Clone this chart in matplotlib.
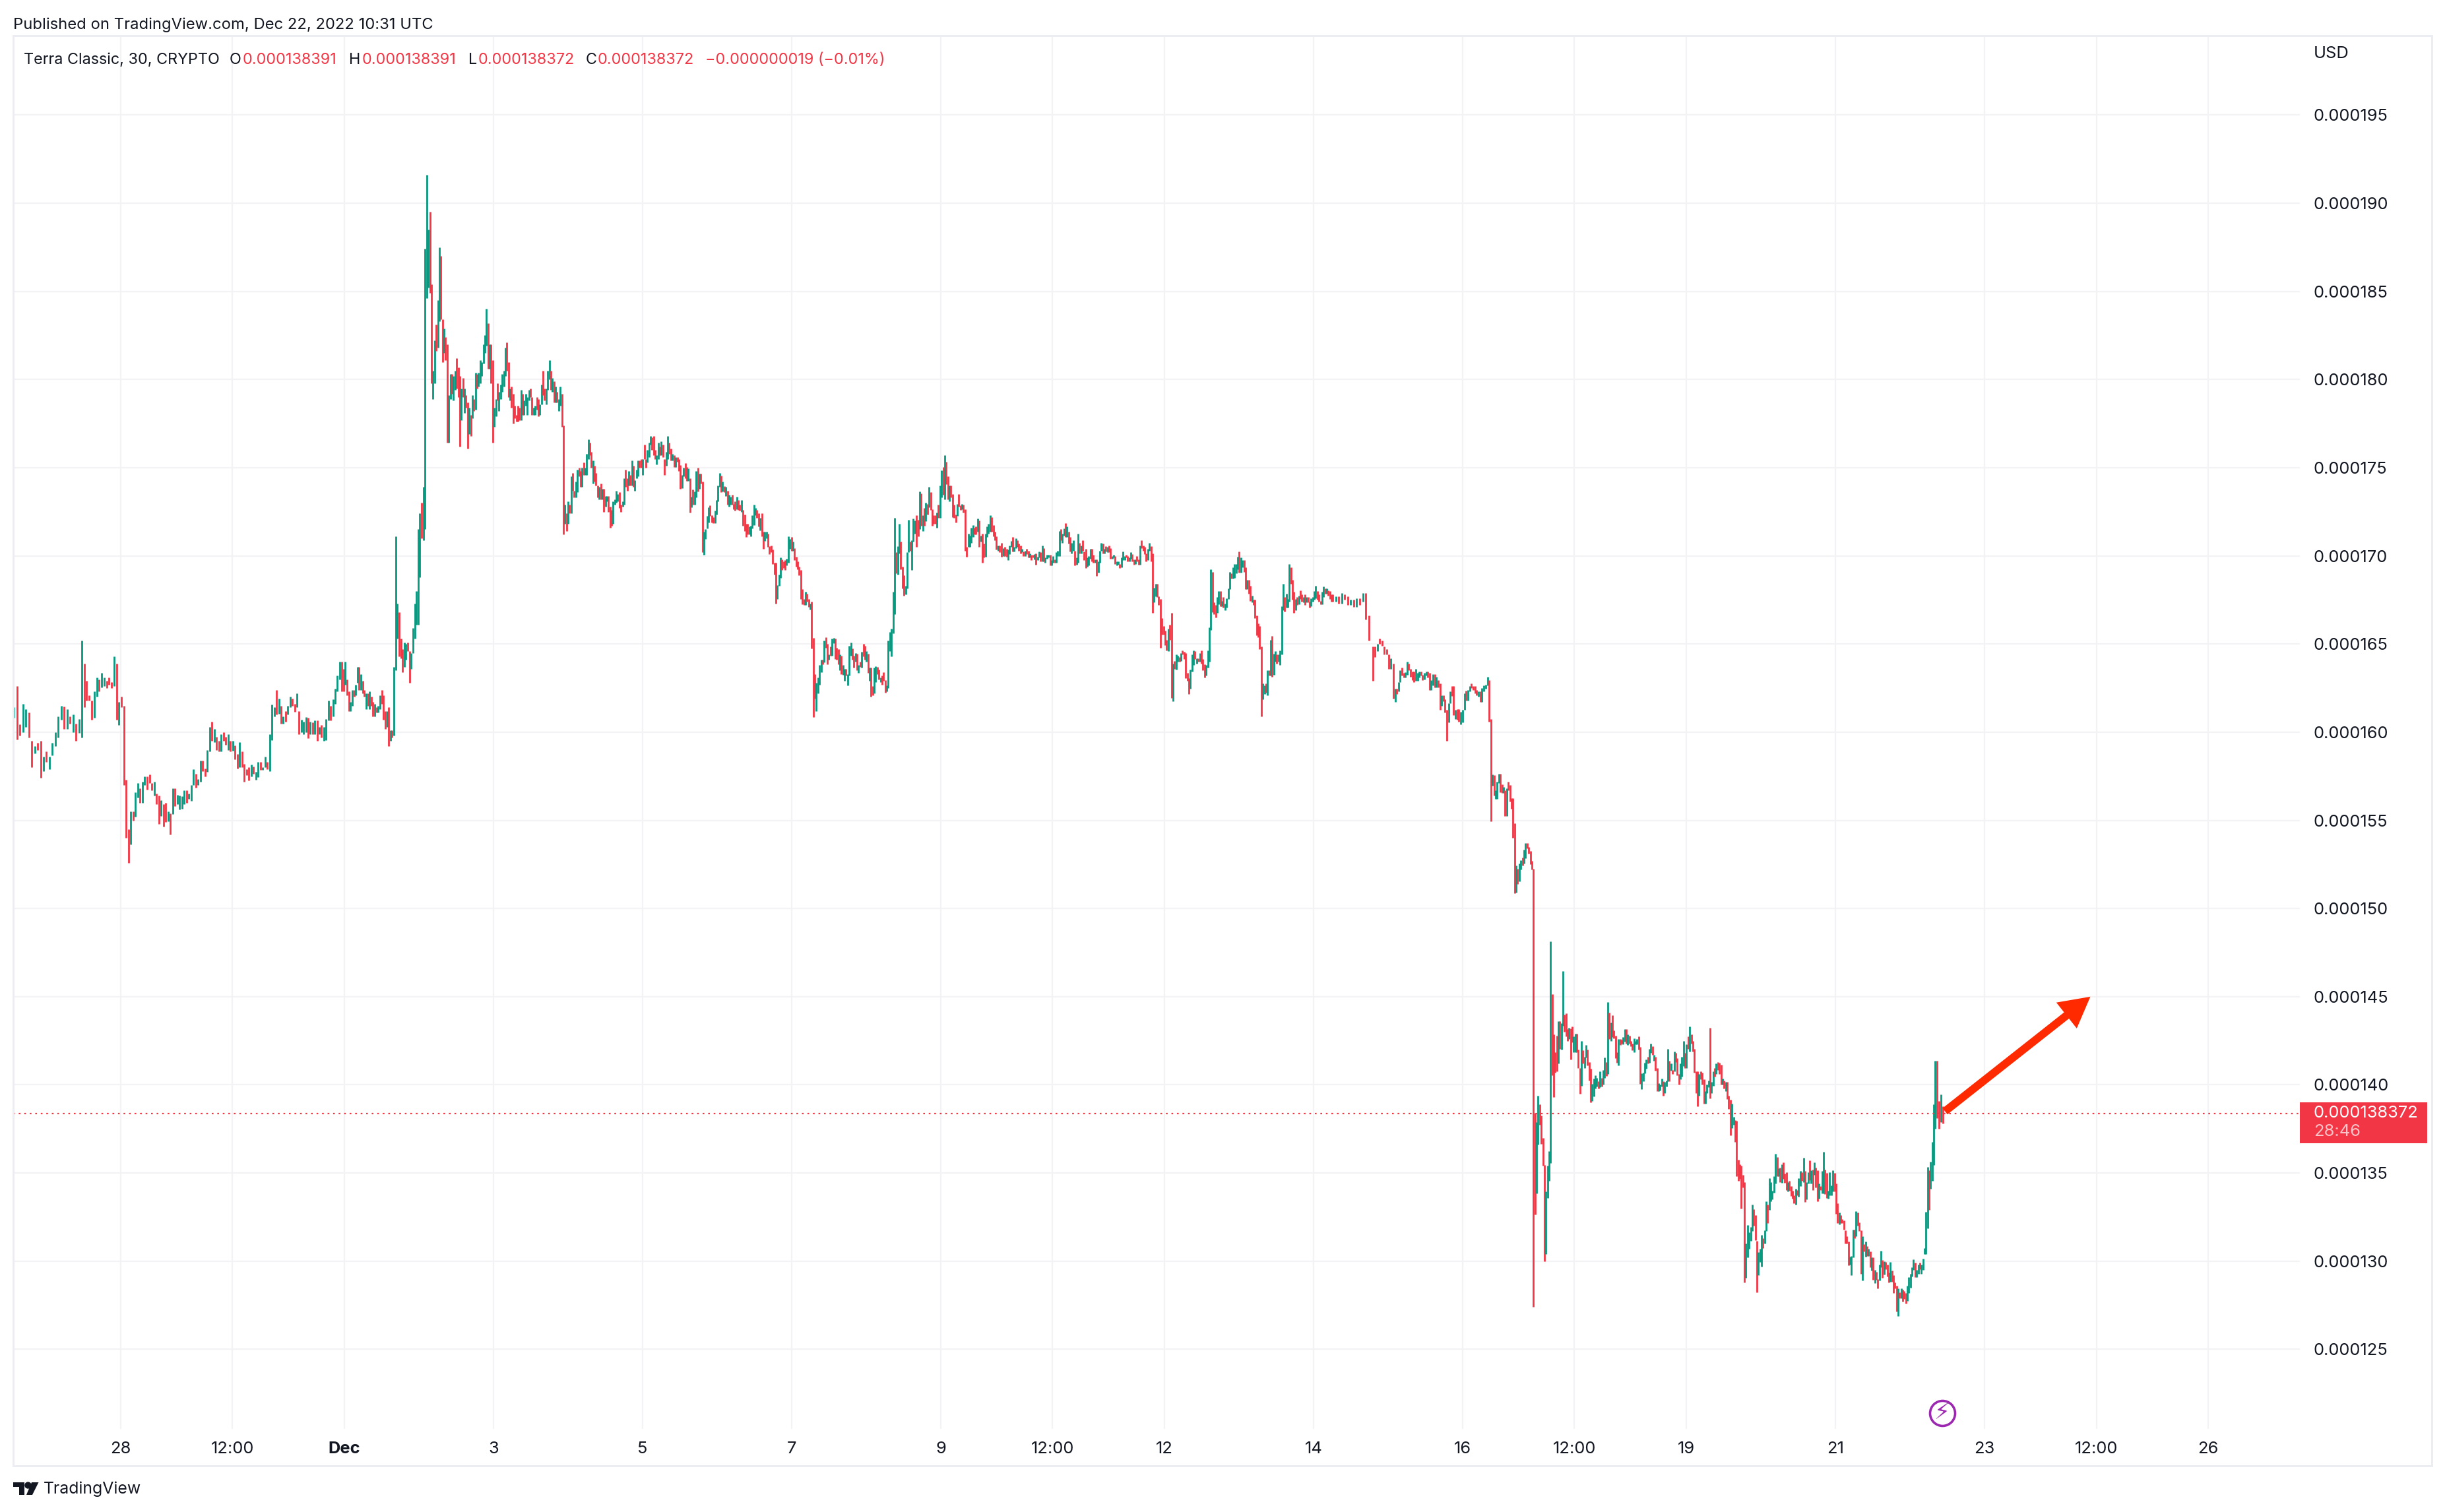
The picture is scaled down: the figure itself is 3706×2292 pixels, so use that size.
import numpy as np
import matplotlib
matplotlib.use("Agg")
import matplotlib.pyplot as plt
from matplotlib.patches import Rectangle, Polygon, FancyArrowPatch, ArrowStyle
from matplotlib.ticker import FuncFormatter

plt.rcParams['font.family'] = ['Inter', 'DejaVu Sans']

# Every bar is (start, end) in millionths of USD: end > start is an up bar, end < start a down bar.
nov27_dec1 = [(160.8,161.4),(162.6,159.6),(160.45,159.8),(160,161.6),(160.3,161.3),(161.1,159.7),(159.5,158),(158.8,159.2),(159.4,159),(159.5,157.4),(157.8,158.6),(158.9,158.3),(157.9,158.6),(158.7,159.4),(159.2,160),(159.7,160.9),(160.7,161.5),(161.45,160.2),(160.2,161.3),(160.9,160.5),(160,161),(160.5,159.5),(159.95,160.75),(159.7,165.2),(163.9,161.4),(162.9,161.8),(162.1,161.8),(161.8,160.7),(160.8,162.3),(162,163.1),(163,162.3),(162.55,163.35),(162.6,163.1),(162.9,162.5),(163.1,162.7),(162.85,162.5),(162.6,164.3),(163.9,160.7),(160.4,161.7),(162,161.4),(161.5,157),(157.3,154),(154.5,152.6),(153.65,155.5),(155.5,155),(155.2,156.6),(156.3,157.1),(156.8,156),(156,157.2),(157,157.5),(157.5,156.75),(157.6,157.1),(157.1,156.7),(156.4,157.2),(156.5,155.9),(156.4,154.8),(155.25,156.15),(155.9,154.65),(156,154.9),(154.95,155.5),(155.4,154.2),(155.35,156.8),(156.8,155.8),(155.9,156.45),(155.6,156.4),(155.65,156.35),(155.9,156.7),(156.7,156),(156.2,156.5),(156.1,157),(157,157.9),(157.65,156.85),(157,157.35),(157.2,158.4),(158.4,157.8),(157.95,157.5),(157.75,159),(158.9,160.3),(160.6,159.5),(159.45,160.2),(159.75,159),(159.5,158.9),(158.9,159.9),(160,159.5),(159.75,159.3),(159,159.9),(159.5,158.9),(158.95,159.5),(159.25,158.45),(158.75,157.95),(158,159.45),(158.9,158),(158.2,157.2),(157.9,157.55),(158,157.25),(157.5,158.15),(158.05,157.65),(157.3,157.75),(157.45,158.3),(158.3,157.85),(157.85,158),(158,158.6),(158.3,157.9),(157.8,159.9),(159.55,161.55),(160.9,161.4),(162.4,161),(161.05,161.9),(161.5,160.5),(160.5,160.9),(161.2,160.6),(161,161.5),(161.4,162),(161.9,161.5),(161.6,161.15),(161.4,162.2),(161.2,159.9),(160,160.7),(159.9,160.6),(160,160.85),(160.8,159.65),(159.9,160.6),(160.55,159.9),(159.9,160.65),(160.65,159.5),(159.9,160.3),(160.4,159.7),(159.5,160.3),(159.55,160.75),(160.65,161.8),(161.5,160.65),(160.9,161.85),(161.6,162.45),(162.3,163.2),(163,164),(164,162.3)]

dec1_dec5 = [(163.6,162.3),(162.7,164),(163,162.1),(162.3,161.2),(161.2,161.7),(161.5,162.4),(162.4,162),(162.1,162.7),(162.8,163.7),(163.7,162.4),(162.4,163.3),(162.9,162.2),(162.4,162),(161.3,162.2),(162.2,161.5),(161.3,162.3),(162,161.5),(161.7,160.9),(160.9,161.6),(161.4,161.1),(161.1,161.5),(161.3,162.1),(162.4,161.6),(162.1,160.7),(161.2,160.2),(160.3,161.2),(161.4,159.2),(159.5,160.1),(160.1,159.7),(159.8,163.7),(163.5,171.1),(165.3,167.3),(166.8,164.3),(165.3,164.2),(164.7,163.4),(163.7,165.1),(164.1,165),(165.1,164.6),(164.6,162.8),(163.6,164.5),(164.5,165.9),(165.3,167.3),(166.1,168),(166.1,171.5),(168.8,172.4),(173,171),(170.9,173.9),(171.5,187.4),(184.6,191.6),(185.2,188.5),(189.5,184.9),(185.4,179.8),(178.9,180.5),(179.8,182.2),(183.1,181.6),(181.8,184.5),(183.3,187.5),(187,183.4),(183.4,181),(181.5,182.9),(182.4,181.1),(182,176.4),(176.4,179.1),(178.9,180.3),(180.3,179.2),(178.8,180.2),(179.4,180.5),(181.2,179.5),(180.7,179),(180.2,176.2),(177.7,179.5),(180.1,179),(178.1,179.5),(179.1,178.4),(178.7,176.1),(176.9,178.4),(178,176.8),(177.8,179.1),(178.9,178.2),(178.3,180.4),(180.3,179.5),(179.6,180.4),(179.8,181.1),(180.2,181),(180.9,182),(181.5,182.5),(181.9,184),(183.2,180.6),(180.6,182),(182,179.8),(181.1,176.4),(177.3,178.4),(177.9,178.9),(179.8,178.8),(178.2,179.3),(178.9,179.7),(179.3,180.3),(179.6,180.5),(180.2,181.8),(182.1,180.5),(181,179),(178.8,179.5),(179.6,178.4),(179.2,177.5),(178.5,177.8),(178,177.6),(178.5,177.6),(178.4,177.7),(177.7,179.4),(179.2,178),(178,178.8),(178.5,179.2),(178,179),(178.8,179.4),(179.5,179),(179,178),(178,178.4),(178,178.5),(179,178.3),(178.9,177.9),(178,178.6),(178.6,179.7),(180.5,179.1),(179.5,178.8),(178.6,179.5),(179.4,180.5),(180,181.1),(180.5,179.4),(179.3,180.1),(179.9,178.7),(178.7,179.6),(179.3,178.7),(178.2,178.9),(178.5,179.6),(179.2,177.3),(177.4,171.2),(171.8,172.9),(172.4,171.4),(171.8,173.1),(172.9,172.4),(172.4,174.5),(174.7,173.7),(173.7,173.3),(173.3,174.2),(173.6,174.9),(175,174.5),(174.8,173.9),(173.9,175),(175.3,174.6),(174.6,175),(174.6,175.8),(175.5,176.6),(176.4,175.7),(175.9,175),(174.1,175.4),(175.1,174.2),(174.7,174),(174,173.3),(173.2,173.9),(174.1,173.2),(173.2,173.8),(173.8,172.5),(172.8,173.4),(173.1,173.4),(173.4,172.5),(172.8,171.6),(172.6,171.7),(171.8,173.1),(172.9,173.2),(173,173.7),(173.1,173.5),(173.6,172.7),(172.9,172.5),(172.8,173.1),(172.9,174.4),(174.9,173.9),(174.4,173.7),(174,174.8),(174.6,174),(174,175.4),(175.1,173.9),(173.7,174.3),(174.4,174.9),(174.5,175.4),(175.4,175),(175.5,175),(174.6,175.5),(176.3,175.5),(175.5,175),(175.3,176),(175.6,176.4),(176.3,176.8),(176.7,176),(176.8,175.7),(176,175.5),(175.2,175.7),(175.5,176.4),(176.2,175.7),(175.7,176.5),(176.3,175.6),(175.5,174.6),(175.1,175.9),(175.5,176.8),(176.4,175.8),(176.1,175.4),(175.4,175.8)]

dec5_dec9 = [(175.7,175.05),(175.05,175.6),(175.6,175.35),(175.5,174.8),(175.15,173.8),(173.85,174.6),(174.5,175),(175.25,174.4),(175.05,174.25),(174.25,174.95),(174.4,172.45),(172.75,173.35),(173.75,172.9),(172.9,173.65),(173.3,174.8),(175,173.65),(173.8,174.65),(174.65,174.1),(174.2,170.2),(170.05,171.35),(170.95,171.5),(171.55,172.25),(171.9,172.75),(172.85,172.25),(172.3,171.9),(172.2,171.85),(171.85,172.55),(172.35,173.15),(173.1,174),(173.9,174.7),(174.55,173.6),(173.65,174.2),(173.95,173.6),(173.4,173.9),(173.7,172.9),(172.8,173.45),(172.9,173.35),(173.45,172.9),(172.95,172.65),(173.1,172.55),(172.65,173.35),(173.15,172.6),(172.9,172.55),(172.5,173.15),(172.6,171.7),(172.35,171.4),(171.8,171.05),(171.8,171.2),(171.2,171.65),(171.1,171.7),(171.55,172.3),(171.75,172.9),(172.3,172.7),(172.6,172.15),(172.4,171.65),(171.45,172.15),(172.4,171.1),(171.35,170.4),(170.85,171.35),(171,171.35),(171.25,170.5),(170.55,170.1),(170.6,170.2),(170.35,169.55),(169.6,168.95),(169.6,167.3),(167.55,168.35),(168.3,168.95),(168.75,169.9),(169.8,169.2),(169.7,169.3),(169.75,169.2),(169.45,169.85),(169.6,171.1),(170.4,170.95),(171.05,170.3),(170.3,170.8),(170.45,169.75),(169.95,169.4),(169.7,169.25),(169.4,168.9),(169.2,167.55),(168.1,167.25),(167.55,167.2),(167.2,167.95),(167.85,167.4),(167.55,167.1),(166.95,167.3),(167.4,164.75),(165.35,160.85),(163.3,161.9),(161.2,162.8),(162.2,163.1),(162.7,163.8),(163.4,164.1),(164.1,163.85),(163.95,165.2),(165.4,164.8),(165,163.85),(164.1,164.4),(164.85,164.35),(164.35,165.3),(165.05,165.35),(165.3,164.15),(164.8,164.1),(164.7,163.85),(163.5,164.4),(164.35,163.3),(163.25,163.8),(162.9,163.6),(163.6,163.2),(162.65,163.3),(163.2,164.9),(164.35,165.1),(164.75,164.1),(164.35,163.65),(164,164.5),(164.45,163.5),(163.35,163.8),(164,163.7),(163.65,164.55),(165,164.3),(164.9,164.1),(164,164.6),(164.45,163.35),(162.9,163.65),(163.65,162),(162.6,162.1),(162.2,163.65),(162.85,163.75),(163.7,163.3),(163.55,163),(162.85,163.1),(163.2,162.7),(163.4,162.9),(162.95,162.25),(162.3,162.65),(162.5,165.2),(164.6,165.7),(164.3,165.85),(165.6,167.95),(166.7,172.15),(170.2,169),(168.95,170.55),(170.15,171.8),(170.8,169.25),(169.4,168.15),(168.9,167.75),(167.8,168.3),(168.15,170.2),(170.2,172.05),(170.8,170.3),(169.2,170.9),(170.8,172.1),(171.25,172),(172.3,170.5),(172.05,171.1),(171.5,173.65),(173.55,171.7),(171.4,172.3),(172.7,171.7),(171.95,173),(172.95,172.35),(172.75,173.9),(173.6,172.6),(172.65,171.7),(172.3,171.8),(172.3,171.8),(171.6,172.45),(172.9,172.15),(172.15,174),(173.3,174.85),(175.05,173.45),(173.2,175.7),(175.35,174.05),(174.5,173.2),(173.1,174),(174,173.3),(173.5,172.2),(172.9,172.15),(172.35,171.9),(172.25,172.95),(173.5,172.8),(172.85,172.6),(172.65,172.95),(172.9,172.45),(172.65,170.3),(170.5,169.95),(170.5,171.25),(170.5,171.15),(170.75,171.6),(171.05,171.75),(171.6,171.2),(171.65,171.2),(171.35,172.1),(172,170.5),(170.8,171.15),(171.25,169.6),(170.7,169.9),(169.95,171.25),(171.05,171.65),(171.25,171.8),(171.35,172.3),(172.2,171.35),(171.75,171.1),(171.35,170.9),(171.1,170.35),(170.3,170.6),(170.6,170.2),(170.75,169.95)]

dec9_dec14 = [(170,170.45),(170.5,170),(170.4,169.95),(169.75,170.35),(170.1,170.6),(170.5,170.85),(171.05,170.25),(170.25,170.5),(170.45,171),(170.9,170.5),(170.7,170.3),(170.6,170.15),(170.2,170.4),(170.25,170),(170,170.3),(170.4,170.1),(170.3,169.9),(169.9,170.15),(170.05,169.75),(170.05,169.9),(169.8,170.1),(170.15,169.5),(169.75,169.95),(169.9,170.25),(170.2,169.7),(169.7,170.6),(170.45,169.7),(169.6,169.9),(169.85,170.05),(169.9,170.05),(170.05,169.45),(169.45,169.75),(169.6,170),(169.8,169.6),(169.6,170.2),(170,170.3),(170,171.4),(171.5,170.9),(170.75,171.25),(171.15,171.55),(171.85,171.05),(171.05,171.65),(171.35,170.7),(171.05,170.25),(170.15,170.75),(170.3,170.9),(170.3,169.45),(169.5,169.9),(169.6,171.25),(170.75,170.15),(170.15,170.6),(170.9,170.3),(170.25,169.75),(170.4,169.3),(169.4,169.9),(169.45,170),(169.85,170.4),(170.4,169.7),(170.05,169.6),(169.6,169.8),(169.8,168.85),(169.05,169.7),(169.6,170.3),(170.3,170.75),(170.7,170.15),(170.15,170.4),(170.55,170.25),(170.2,170.5),(170.6,170.2),(170.45,169.85),(169.85,170),(169.9,170.05),(170,169.55),(169.45,169.7),(169.5,169.7),(169.55,169.3),(169.35,169.9),(169.75,170.25),(169.75,170),(170.05,169.9),(170,169.7),(169.7,169.9),(169.85,170.2),(170.1,169.7),(169.8,169.5),(169.55,169.8),(170,169.7),(169.8,169.5),(169.5,170.6),(170.9,170.45),(170.6,170.3),(170.5,170.1),(170.15,169.7),(169.75,170.4),(170.3,170.75),(170.55,169.7),(170.15,166.75),(167.35,168.2),(167.7,168.4),(168.4,167.65),(167.7,167.2),(167.55,164.8),(166.45,165.55),(166,165.55),(165.75,164.95),(165.25,164.65),(164.6,165.85),(166.1,165.25),(166.75,161.95),(161.75,163.9),(164.05,163.6),(163.55,164.4),(164,164.35),(164.25,164),(164.05,164.5),(164.65,164.4),(164.55,164.15),(164.5,163.05),(163.35,162.9),(163.05,162.15),(162.45,163.55),(163.45,164.4),(163.8,164.65),(164.6,164.15),(163.9,164.2),(164.2,164),(164,164.5),(164.65,163.9),(164.15,163.5),(163.85,163.1),(163.2,163.8),(163.65,164.65),(164,165.95),(165.8,169.25),(169.1,166.8),(167.35,166.7),(167.2,166.5),(166.75,167.65),(167.25,168),(168,167.15),(167.15,167.45),(167.65,167.05),(166.9,167.3),(167.05,167.6),(167.55,168.15),(168.1,169.1),(169,168.7),(168.7,169.35),(168.75,169.55),(169,169.55),(169.25,169.95),(170.25,169.05),(169.05,169.9),(169.35,169.75),(169.75,169.1),(169.35,168.1),(168.1,168.65),(168.65,167.85),(168.3,167.45),(167.35,167.75),(167.5,167.2),(167.5,166.45),(166.6,165.5),(166.15,165.4),(166,164.7),(164.85,160.9),(161.85,162.75),(162.15,162.65),(162.75,162.25),(162.1,163.5),(163.5,163.2),(163.2,165.25),(165.45,163.15),(163.25,164.45),(164,164.6),(164.4,163.9),(164,164.4),(163.8,164.65),(164.4,167.15),(166.9,168.4),(167.65,166.85),(167.05,167.85),(167.05,167.55),(167.4,169.55),(169.35,168.4),(168.65,167.5),(167.95,166.75),(166.9,167.55),(167.65,167.2),(167.25,167.75),(168.05,167.55),(167.8,167.4),(167.35,167.65),(167.8,167.2),(167.35,167.65),(167.65,167.35),(167.4,167.05),(167.15,167.6),(167.4,167.65),(167.5,168),(167.6,168.3),(168,167.5),(167.8,167.4),(167.45,167.25),(167.25,167.95),(167.65,168.25),(168.15,167.85),(167.85,168.15),(168.05,167.75),(168,167.55),(167.8,167.4)]

dec14_flat = [(167.8,167.4),(167.4,167.7),(167.7,167.3),(167.3,167.9),(167.8,167.5),(167.7,167.2),(167.2,167.5),(167.5,167.1),(167.1,167.6),(167.6,167.2),(167.4,167.9),(167.9,166.4),(166.6,165.2)]

dec15_dec18 = [(164.85,162.9),(164.85,164.25),(164.6,165),(165.3,165),(165.2,164.9),(164.85,164.4),(164.7,164.4),(164.4,163.6),(163.6,164.2),(163.9,161.9),(161.7,162.45),(162.45,162.15),(162.3,162.85),(162.85,163.5),(163.65,163.2),(163.35,163.1),(163.1,163.4),(163.25,164),(163.9,163.5),(163.6,163.15),(163.45,162.95),(163.45,162.85),(162.9,163.6),(162.9,163.35),(163.1,163.45),(163.45,163.2),(163.25,162.95),(163,163.35),(163.2,163.45),(163.45,163.1),(163.35,162.4),(162.4,162.95),(162.65,163.3),(163.3,162.55),(162.55,163.15),(162.95,162.55),(162.75,161.25),(161.5,162.1),(162.1,161.75),(161.85,161.1),(161.25,159.5),(160.55,161.65),(161.65,162.3),(162.6,162.05),(162.6,160.95),(160.75,161.25),(161.3,160.7),(161.3,160.6),(160.45,161.15),(160.55,161.25),(161.25,162.2),(162.35,161.8),(161.8,162.4),(162.3,162.6),(162.75,162.5),(162.6,162.4),(162.6,162.2),(162.4,162.1),(162,162.3),(162.3,161.7),(161.7,162.5),(162.3,162.65),(162.45,162.7),(162.65,163.15),(162.95,160.6),(160.75,154.95),(156.95,157.6),(157.55,156.4),(156.2,156.7),(156.2,157.2),(157.1,157.65),(157.65,156.6),(157.05,156.55),(156.55,156.9),(156.7,155.25),(155.25,156.8),(157.2,156.7),(157,156.05),(156.25,155.65),(156.25,154),(154.85,150.85),(150.9,152.45),(152.25,151.4),(151.55,152.55),(152.2,152.75),(152.9,152.45),(152.55,153.35),(152.85,153.7),(153.7,153.4),(153.5,153.1),(153.25,152.5),(152.7,152.2),(152.25,127.4),(138.4,132.65),(133.85,137.9),(136.6,139.4),(138.9,137.75),(138.25,136.65),(137,135.4),(135.45,130),(130.4,133.95),(133.6,135.4),(134.55,136.25),(135.55,148.15),(145.15,140.55),(142.85,139.3),(141.85,140.7),(142.8,140.75),(141.2,143.6),(143.6,142.05),(142,143.5),(143.35,146.45),(144,143),(144.05,142.75),(143.15,142.5),(142.6,143.25),(143.2,141.45),(143.3,142.4),(141.85,142.75),(141.85,142.9),(142.9,141.85),(142,140.95),(140.95,139.5),(139.95,142.5),(141.95,141.2),(140.95,141.6),(141.55,142.25),(142,141.1),(141.3,140.25),(140.9,139),(139.1,140.05),(139.35,140.35),(139.8,140.55),(139.9,140.4),(140.2,139.8),(139.85,140.75),(140.4,139.9),(140,140.85),(140.4,141.55),(141.3,140.5),(140.6,144.7),(144.1,142.6),(142.5,143.55),(143.95,142.7),(143.1,142.65),(142.8,141.5),(141.85,141.25),(141.1,142.6),(142.6,142.25),(142.55,142.35),(142.3,142.7),(142.45,143.15),(143.15,142.35),(142.25,142.85),(142.8,142.35),(142.5,142.2),(142.35,141.95),(141.85,142.65),(142.3,142.5),(142.3,142.6),(142.75,142),(142.15,140.05),(139.75,140.65),(140.2,140.7),(140.65,141.25),(140.9,141.45),(141.6,141.2),(141.25,142.05),(141.8,142.35),(142.2,141.7),(141.35,141.7),(141.6,140.8),(140.95,139.65),(139.65,140.1),(139.7,140),(139.9,140.35)]

dec18_dec22 = [(140.2,139.4),(139.55,140.15),(139.9,140.25),(140.2,142.05),(141.35,140.2),(140.8,141.2),(140.85,140.6),(140.75,141.9),(141.8,141.3),(141.5,140.55),(140.6,140),(140.3,141.2),(140.45,141.6),(141.05,142.5),(141.8,140.95),(140.95,142.3),(142.75,142.05),(141.9,143.3),(142.85,142.35),(142.5,141.9),(142.05,140.7),(140.75,139.55),(140.75,138.8),(139.4,140.6),(140.75,140.3),(140.7,140),(140.3,138.95),(138.95,139.65),(139.55,140),(139.85,140.25),(143.25,139.25),(139.55,140.15),(139.95,140.75),(140.95,140.45),(140.6,141.2),(141.3,140.85),(141.25,140.6),(141.15,140),(140,140.35),(140.25,139.8),(139.65,140.15),(140.15,139.2),(139.4,138.65),(139.15,137.15),(137.55,138.95),(137.75,138.2),(138,136.75),(137.95,134.8),(135.75,134.55),(135.5,134.65),(135.4,133),(134.9,134.2),(134.5,128.8),(129.05,131),(130.2,132.05),(130.7,131.65),(131.15,131.95),(131.7,133.2),(132.95,132),(132.6,131.2),(131.15,128.25),(129.2,130.5),(129.95,130.7),(129.7,131.5),(131.3,130.75),(131,131.75),(131.7,133.4),(133.2,132.15),(132.9,134.7),(133.4,134.5),(133.5,134),(133.9,134.8),(134.4,136.1),(135.9,134.8),(134.8,135.25),(135.3,134.5),(134.45,135.5),(135.6,134.65),(134.95,134.45),(135.05,134.05),(133.95,134.5),(134.55,134),(134.25,133.7),(134,133.55),(133.75,133.3),(133.2,134.1),(134.05,133.75),(133.65,134.7),(134.25,135.1),(135.05,134.55),(134.5,135.85),(135.1,133.35),(133.5,134.5),(134.4,135.05),(135.7,134.6),(134.4,135.15),(135.2,134.05),(134.9,135.6),(135.3,134.2),(135.15,133.4),(133.55,134.4),(134.25,134.05),(133.85,135.1),(133.85,136.2),(135.2,133.8),(135,133.6),(133.55,134),(133.75,135.05),(133.75,134.3),(133.95,135.15),(135,133.95),(134.4,132.7),(133.3,132.15),(132.1,132.75),(132.6,132.15),(132.4,132.15),(132.3,131.8),(131.75,131),(131.4,131),(131.1,129.75),(129.8,130.25),(129.2,130.3),(130.2,131.8),(131.8,131.3),(131.4,132.85),(132.75,132),(132.2,131.7),(131.75,129.3),(128.9,131.4),(130.95,130.55),(130.25,131.1),(130.85,130.3),(130.3,130.7),(130.55,129.65),(129.45,130.2),(130.2,128.95),(128.75,129.5),(129.4,128.95),(129,128.45),(128.9,129.8),(129.65,130.6),(130.05,129.05),(129.25,130),(129.95,129.55),(129.8,129.15),(129.35,128.8),(128.85,129.95),(129.45,128.85),(129.2,128.2),(128.8,128.45),(128.6,127.15),(126.9,128.45),(128.25,127.9),(127.9,128.45),(128.4,127.7),(128.3,127.85),(128.2,127.6),(127.75,128.6),(128.2,129.1),(128.5,129.3),(129.15,129.65),(129.5,130.1),(129.9,129.1),(129.1,129.5),(129.3,129.8),(129.9,129.55),(129.3,129.8),(129.5,130.15),(130.4,130.75),(130.4,132.8),(131.85,135.35),(135.15,132.9),(134.1,135.65),(134.55,136.75),(135.45,138.9),(137.5,141.35),(141.35,138.1),(139.1,137.5),(137.9,139.45),(138.8,137.8)]

# Dated bars of each run, in days after 28 Nov; the bars between them are spread evenly.
runs = [
    (nov27_dec1, [(0, -1.43), ((159.7,165.2), -0.522), ((161.5,157), 0.044), ((157.8,159.9), 2.0), (-1, 2.967)]),
    (dec1_dec5, [(0, 2.99), ((184.6,191.6), 4.106), ((177.4,171.2), 5.938), (-1, 7.398)]),
    (dec5_dec9, [(0, 7.425), ((165.35,160.85), 9.29), ((166.7,172.15), 10.38), (-1, 11.81)]),
    (dec9_dec14, [(0, 11.84), ((170.15,166.75), 13.84), ((164.85,160.9), 15.30), (-1, 16.24)]),
    (dec14_flat, [(0, 16.257), (-1, 16.74)]),
    (dec15_dec18, [(0, 16.796), ((163.9,161.9), 17.07), ((162.6,160.95), 17.88), ((160.75,154.95), 18.38),
                   ((152.25,127.4), 18.95), ((135.55,148.15), 19.18), (-1, 20.67)]),
    (dec18_dec22, [(0, 20.69), ((134.5,128.8), 21.78), ((137.5,141.35), 24.34), (-1, 24.44)]),
]

price_ticks = [125, 130, 135, 140, 145, 150, 155, 160, 165, 170, 175, 180, 185, 190, 195]
day_ticks = [0, 1.5, 3, 5, 7, 9, 11, 12.5, 14, 16, 18, 19.5, 21, 23, 25, 26.5, 28]
day_labels = ['28', '12:00', 'Dec', '3', '5', '7', '9', '12:00', '12', '14', '16', '12:00', '19', '21', '23', '12:00', '26']
last_price = 138.372
arrow_from = (24.47, 138.5)
arrow_to = (26.42, 145.0)
flash_at = (24.43, 121.4)

W, H = 3706, 2292
UP, DOWN, INK = '#089981', '#F23645', '#131722'
GRID, FRAME = '#f3f3f5', '#ecedf2'
px = 72 / 100

fig = plt.figure(figsize=(W / 100, H / 100), dpi=100, facecolor='white')
ax = fig.add_axes([20 / W, 1 - 2166 / H, (3486 - 20) / W, (2166 - 54) / H])
ax.set_xlim(-1.442, 29.23)
ax.set_ylim(120.49e-6, 199.5e-6)

for s in ax.spines.values():
    s.set_visible(False)
ax.set_axisbelow(True)
ax.grid(True, color=GRID, lw=2.2 * px)
ax.yaxis.tick_right()
ax.set_yticks([p * 1e-6 for p in price_ticks])
ax.yaxis.set_major_formatter(FuncFormatter(lambda v, _: f"{v:.6f}"))
ax.set_xticks(day_ticks)
ax.set_xticklabels(day_labels)
ax.tick_params(axis='both', length=0, labelsize=25.5 * px, labelcolor=INK)
ax.tick_params(axis='y', pad=21 * px)
ax.tick_params(axis='x', pad=19 * px)
ax.get_xticklabels()[2].set_fontweight('bold')

for bars, dated in runs:
    b = np.array(bars) * 1e-6
    idx = [len(bars) - 1 if a == -1 else a if a == 0 else bars.index(a) for a, _ in dated]
    xs = np.interp(np.arange(len(bars)), idx, [d for _, d in dated])
    cols = [UP if e > s else DOWN for s, e in b]
    ax.vlines(xs, b.min(axis=1), b.max(axis=1), colors=cols, lw=2.8 * px, capstyle='butt', zorder=3)

ax.axhline(last_price * 1e-6, color=DOWN, lw=2.2 * px, ls=(0, (1.2, 2.6)), zorder=4)

arrow = FancyArrowPatch((arrow_from[0], arrow_from[1] * 1e-6), (arrow_to[0], arrow_to[1] * 1e-6),
                        arrowstyle=ArrowStyle('simple', head_length=46 * px, head_width=50 * px, tail_width=12 * px),
                        mutation_scale=1, color='#FF2A00', lw=0, shrinkA=0, shrinkB=0, zorder=5)
ax.add_patch(arrow)

ax.plot([flash_at[0]], [flash_at[1] * 1e-6], 'o', ms=38 * px, mfc='white', mec='#9C27B0', mew=3.6 * px, zorder=5)
ax.text(flash_at[0], flash_at[1] * 1e-6, '\u26A1', color='#9C27B0', fontsize=34 * px, ha='center', va='center',
        family='DejaVu Sans', zorder=6)


def label(x, y, s, color=INK, size=25.5, **kw):
    fig.text(x / W, 1 - y / H, s, color=color, fontsize=size * px, va='center', **kw)


# chart frame
for x0, y0, x1, y1 in [(20, 54, 3686, 54), (20, 2222, 3686, 2222), (20, 54, 20, 2222), (3686, 54, 3686, 2222)]:
    fig.add_artist(plt.Line2D([x0 / W, x1 / W], [1 - y0 / H, 1 - y1 / H], color=FRAME, lw=3 * px))

label(20, 38, 'Published on TradingView.com, Dec 22, 2022 10:31 UTC', size=23.8)
label(36, 91, 'Terra Classic, 30, CRYPTO', size=23.4)
for x, s, c in [(348, 'O', INK), (368, '0.000138391', DOWN), (529, 'H', INK), (549, '0.000138391', DOWN),
                (710, 'L', INK), (725, '0.000138372', DOWN), (888, 'C', INK), (906, '0.000138372', DOWN),
                (1069, '\u22120.000000019 (\u22120.01%)', DOWN)]:
    label(x, 91, s, color=c, size=23.4)
label(3507, 82, 'USD')

# last price tag
fig.add_artist(Rectangle((3486 / W, 1 - 1733 / H), (3679 - 3486) / W, (1733 - 1671) / H,
                         transform=fig.transFigure, fc=DOWN, ec='none', zorder=6))
label(3507, 1688, '0.000138372', color='white', zorder=7)
label(3507, 1716, '28:46', color='#FBC2C7', zorder=7)


# TradingView mark
def pxy(x, y):
    return (x / W, 1 - y / H)


for pts in [[(20, 2247), (37, 2247), (37, 2266), (29, 2266), (29, 2254), (20, 2254)],
            [(48, 2247), (58.5, 2247), (49, 2266), (40, 2266)]]:
    fig.add_artist(Polygon([pxy(*p) for p in pts], closed=True, transform=fig.transFigure, fc=INK, ec='none'))
fig.add_artist(plt.Line2D([42 / W], [1 - 2251 / H], marker='o', ms=9 * px, color=INK, lw=0))
label(66, 2257, 'TradingView', size=24.8)

fig.savefig('out.png', dpi=100, facecolor='white')
